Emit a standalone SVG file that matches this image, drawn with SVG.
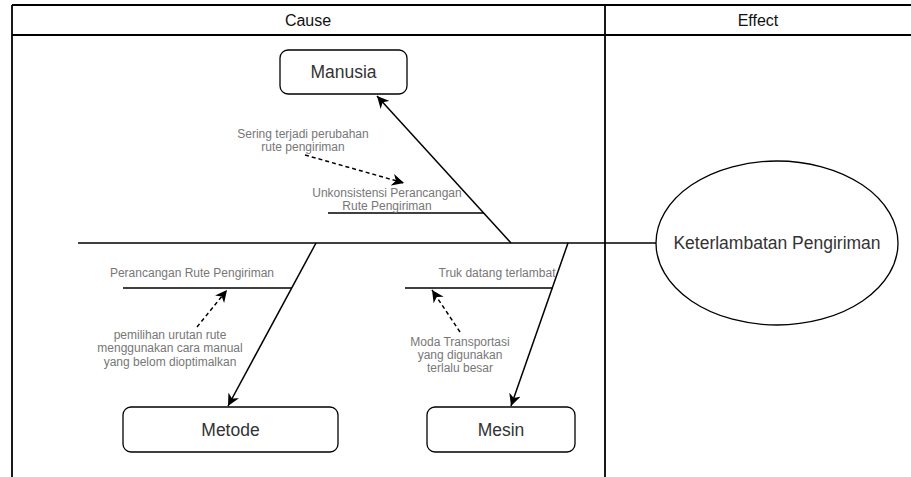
<svg xmlns="http://www.w3.org/2000/svg" width="911" height="477" viewBox="0 0 911 477">
<style>
.ln{stroke:#000;stroke-width:1.5;fill:none}
.tb{stroke:#000;stroke-width:1.8;fill:none}
.box{fill:#fff;stroke:#000;stroke-width:1.3}
.big{font-family:"Liberation Sans",Arial,sans-serif;font-size:17.5px;fill:#333;text-anchor:middle}
.hd{font-family:"Liberation Sans",Arial,sans-serif;font-size:16px;fill:#111;text-anchor:middle}
.sm{font-family:"Liberation Sans",Arial,sans-serif;font-size:12px;fill:#777;text-anchor:middle}
.dash{stroke:#000;stroke-width:1.5;fill:none;stroke-dasharray:4 3}
</style>
<defs>
<marker id="ah" markerWidth="12" markerHeight="12" refX="10" refY="5" orient="auto" markerUnits="userSpaceOnUse" viewBox="0 0 10 10">
<path d="M0,0 L10,5 L0,10 L3,5 Z" fill="#000"/>
</marker>
</defs>
<rect width="911" height="477" fill="#fff"/>
<g id="table">
<line class="tb" x1="12" y1="5" x2="911" y2="5"/>
<line class="tb" x1="12" y1="35" x2="911" y2="35"/>
<line class="tb" x1="12" y1="5" x2="12" y2="477"/>
<line class="tb" x1="605" y1="5" x2="605" y2="477"/>
<text class="hd" x="308" y="26">Cause</text>
<text class="hd" x="758" y="26">Effect</text>
</g>
<g id="connectors">
<line class="ln" x1="78" y1="243" x2="656" y2="243"/>
<line class="ln" x1="511" y1="243" x2="377" y2="96" marker-end="url(#ah)"/>
<line class="ln" x1="316" y1="243" x2="228" y2="406" marker-end="url(#ah)"/>
<line class="ln" x1="568" y1="243" x2="511" y2="406" marker-end="url(#ah)"/>
<line class="ln" x1="328" y1="213" x2="484" y2="213"/>
<line class="ln" x1="123" y1="288" x2="292" y2="288"/>
<line class="ln" x1="405" y1="288" x2="553" y2="288"/>
<line class="dash" x1="305" y1="155" x2="404" y2="183" marker-end="url(#ah)"/>
<line class="dash" x1="197" y1="327" x2="227" y2="290" marker-end="url(#ah)"/>
<line class="dash" x1="460" y1="332" x2="432" y2="290" marker-end="url(#ah)"/>
</g>
<g id="manusia">
<rect class="box" x="280" y="50" width="127" height="44" rx="8"/>
<text class="big" x="343.5" y="78">Manusia</text>
</g>
<g id="metode">
<rect class="box" x="123" y="407" width="215" height="45" rx="8"/>
<text class="big" x="230.5" y="436">Metode</text>
</g>
<g id="mesin">
<rect class="box" x="427" y="407" width="148" height="45" rx="8"/>
<text class="big" x="501" y="436">Mesin</text>
</g>
<g id="effect">
<ellipse class="box" cx="777" cy="243" rx="121" ry="82"/>
<text class="big" x="777" y="249">Keterlambatan Pengiriman</text>
</g>
<g id="label-manusia-cause">
<text class="sm" x="303" y="138">Sering terjadi perubahan</text>
<text class="sm" x="303" y="151">rute pengiriman</text>
</g>
<g id="label-manusia-sub">
<text class="sm" x="387" y="197">Unkonsistensi Perancangan</text>
<text class="sm" x="387" y="210">Rute Pengiriman</text>
</g>
<g id="label-metode-sub">
<text class="sm" x="192" y="277">Perancangan Rute Pengiriman</text>
</g>
<g id="label-metode-cause">
<text class="sm" x="170" y="339">pemilihan urutan rute</text>
<text class="sm" x="170" y="352">menggunakan cara manual</text>
<text class="sm" x="170" y="366">yang belom dioptimalkan</text>
</g>
<g id="label-mesin-sub">
<text class="sm" x="497" y="277">Truk datang terlambat</text>
</g>
<g id="label-mesin-cause">
<text class="sm" x="460" y="346">Moda Transportasi</text>
<text class="sm" x="460" y="359">yang digunakan</text>
<text class="sm" x="460" y="372">terlalu besar</text>
</g>
</svg>
